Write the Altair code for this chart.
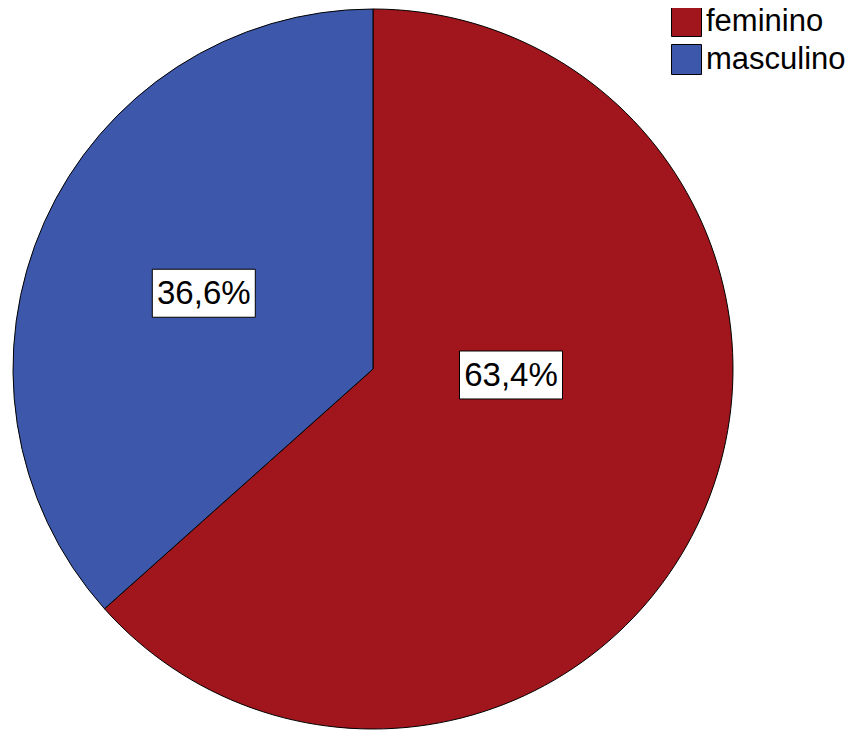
import altair as alt
import pandas as pd

categories = ["feminino", "masculino"]
percentages = [63.4, 36.6]
labels = ["63,4%", "36,6%"]
colors = ["#A0161C", "#3D58AA"]

df = pd.DataFrame({"sexo": categories, "pct": percentages, "label": labels})

CX, CY, R = 365, 361, 360

color = alt.Color(
    "sexo:N",
    scale=alt.Scale(domain=categories, range=colors),
    legend=alt.Legend(
        title=None,
        orient="none",
        legendX=663,
        legendY=-2,
        symbolType="square",
        symbolSize=900,
        symbolStrokeColor="black",
        symbolStrokeWidth=1,
        symbolOpacity=1,
        labelFontSize=31,
        labelFont="Liberation Sans",
        labelColor="black",
        labelOffset=4,
        labelLimit=300,
        rowPadding=3,
        padding=0,
    ),
)

pie = alt.Chart(df).mark_arc(stroke="black", strokeWidth=1, opacity=1).encode(
    theta=alt.Theta("pct:Q", stack=True),
    order=alt.Order("sexo:N"),
    color=color,
    x=alt.value(CX),
    y=alt.value(CY),
    radius=alt.value(R),
)

# label positions derived from the stacked angles (unit radius, y downward)
lab = (
    alt.Chart(df)
    .transform_joinaggregate(total="sum(pct)")
    .transform_window(cum="sum(pct)", sort=[alt.SortField("sexo")])
    .transform_calculate(mid="2*PI*(datum.cum - datum.pct/2)/datum.total")
    .transform_calculate(
        frac="datum.sexo == 'masculino' ? 0.515 : 0.42",
        oy="datum.sexo == 'masculino' ? 0 : -0.155",
    )
    .transform_calculate(
        lx="datum.frac*sin(datum.mid)",
        ly="-datum.frac*cos(datum.mid) + datum.oy",
    )
)

xs = alt.X("lx:Q", scale=alt.Scale(domain=[-1, 1], range=[CX - R, CX + R]), axis=None)
ys = alt.Y("ly:Q", scale=alt.Scale(domain=[-1, 1], range=[CY - R, CY + R]), axis=None)

box = lab.mark_point(
    shape="M-1,-0.466L1,-0.466L1,0.466L-1,0.466Z",
    size=10609,
    filled=True,
    fill="white",
    stroke="black",
    strokeWidth=1,
    opacity=1,
).encode(x=xs, y=ys)

txt = lab.mark_text(
    font="Liberation Sans",
    fontSize=33,
    color="black",
    align="center",
    baseline="middle",
    dy=1,
).encode(text="label:N", x=xs, y=ys)

chart = alt.layer(pie, box, txt).properties(
    width=837,
    height=724,
    padding=0,
    autosize=alt.AutoSizeParams(type="none"),
).configure_view(stroke=None)

chart.save("out.html", embed_options={"renderer": "svg", "actions": False})
